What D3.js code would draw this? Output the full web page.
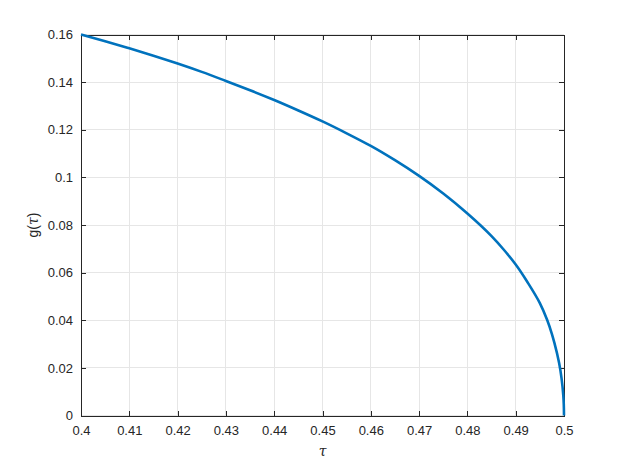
<!DOCTYPE html>
<html><head><meta charset="utf-8">
<script src="https://cdn.jsdelivr.net/npm/d3@7"></script>
<style>body{margin:0;background:#fff}svg{display:block}text{font-family:"Liberation Sans",Arial,sans-serif}</style>
</head><body><svg id="c" width="623" height="467"></svg>
<script>
const tau = [0.400,0.405,0.410,0.415,0.420,0.425,0.430,0.435,0.440,0.445,0.450,0.455,0.460,0.465,0.470,0.475,0.480,0.485,0.4875,0.490,0.4925,0.495,0.4965,0.4975,0.498,0.499,0.4995,0.49985,0.49995,0.5];
const gval = [0.1600,0.1572,0.1542,0.1511,0.1478,0.1443,0.1405,0.1366,0.1325,0.1281,0.1235,0.1185,0.1132,0.1072,0.1006,0.0932,0.0848,0.0753,0.0697,0.0634,0.0558,0.0472,0.0402,0.0342,0.0306,0.0219,0.0155,0.0085,0.0049,0.0];
const xTicks = [0.4,0.41,0.42,0.43,0.44,0.45,0.46,0.47,0.48,0.49,0.5];
const yTicks = [0,0.02,0.04,0.06,0.08,0.1,0.12,0.14,0.16];
const xLabels = ["0.4","0.41","0.42","0.43","0.44","0.45","0.46","0.47","0.48","0.49","0.5"];
const yLabels = ["0","0.02","0.04","0.06","0.08","0.1","0.12","0.14","0.16"];

const L=81,R=564,T=34.5,B=415.5;
const svg=d3.select("#c");
const x=d3.scaleLinear().domain([0.4,0.5]).range([L,R]);
const y=d3.scaleLinear().domain([0,0.16]).range([B,T]);

// grid
const g=svg.append("g");
g.selectAll(".gx").data(xTicks).join("line").attr("x1",d=>x(d)).attr("x2",d=>x(d)).attr("y1",T).attr("y2",B).attr("stroke","#e6e6e6").attr("stroke-width",1).attr("shape-rendering","crispEdges");
g.selectAll(".gy").data(yTicks).join("line").attr("x1",L).attr("x2",R).attr("y1",d=>y(d)).attr("y2",d=>y(d)).attr("stroke","#e6e6e6").attr("stroke-width",1).attr("shape-rendering","crispEdges");

// axes
const ax=svg.append("g").attr("transform",`translate(0,${B})`).call(d3.axisBottom(x).tickValues(xTicks).tickFormat((d,i)=>xLabels[i]).tickSizeInner(-5).tickSizeOuter(0).tickPadding(10));
const ay=svg.append("g").attr("transform",`translate(${L},0)`).call(d3.axisLeft(y).tickValues(yTicks).tickFormat((d,i)=>yLabels[i]).tickSizeInner(-5).tickSizeOuter(0).tickPadding(8));
const axT=svg.append("g").attr("transform",`translate(0,${T})`).call(d3.axisTop(x).tickValues(xTicks).tickFormat("").tickSizeInner(-5).tickSizeOuter(0));
const ayR=svg.append("g").attr("transform",`translate(${R},0)`).call(d3.axisRight(y).tickValues(yTicks).tickFormat("").tickSizeInner(-5).tickSizeOuter(0));
[ax,ay,axT,ayR].forEach(a=>{a.selectAll("path,line").attr("stroke","#262626").attr("shape-rendering","crispEdges");a.selectAll("text").attr("fill","#262626").style("font-size","13px").style("font-family","'Liberation Sans',Arial,sans-serif");});

// line
svg.append("path").datum(tau.map((t,i)=>[t,gval[i]]))
  .attr("fill","none").attr("stroke","#0072BD").attr("stroke-width",2.6)
  .attr("d",d3.line().x(d=>x(d[0])).y(d=>y(d[1])).curve(d3.curveMonotoneY));

// labels
svg.append("text").attr("x",(L+R)/2).attr("y",456).attr("text-anchor","middle").style("font-size","14px").style("font-family","'DejaVu Serif',serif").style("font-style","italic").attr("fill","#262626").text("τ");
svg.append("text").attr("transform",`translate(38,${(T+B)/2}) rotate(-90)`).attr("text-anchor","middle").style("font-size","14px").attr("fill","#262626")
  .call(t=>{t.append("tspan").text("g(");t.append("tspan").style("font-family","'DejaVu Serif',serif").style("font-style","italic").text("τ");t.append("tspan").text(")");});
</script></body></html>
